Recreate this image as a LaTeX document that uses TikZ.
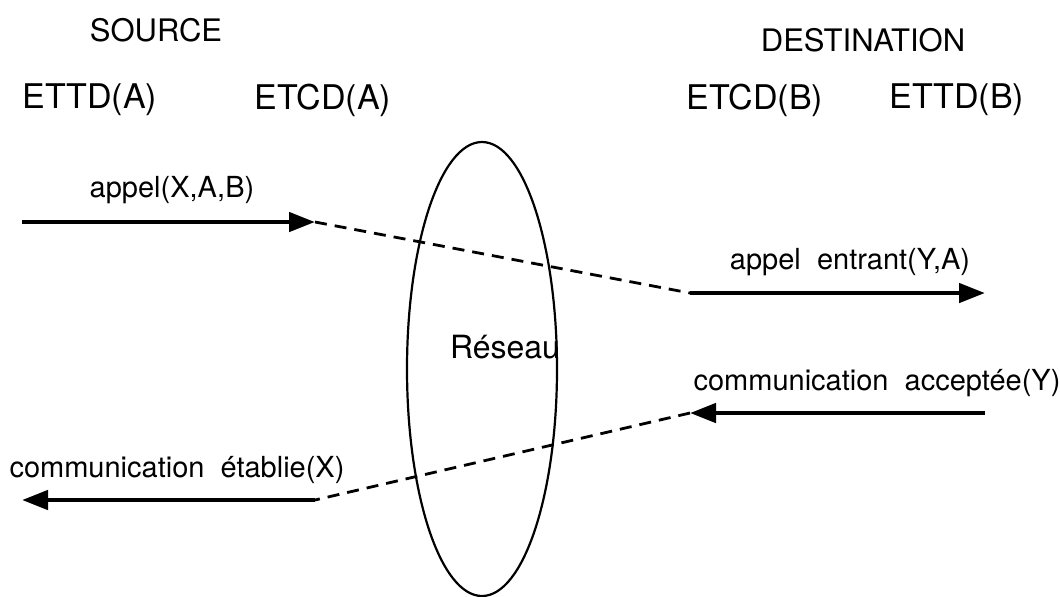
\documentclass[tikz,border=0pt]{standalone}
\usepackage{fontspec}
\setmainfont{TeX Gyre Heros}
\usetikzlibrary{arrows.meta}

\begin{document}
\begin{tikzpicture}[x=0.5pt,y=-0.5pt,
  msg/.style={line width=2.3pt,-{Triangle[length=13pt,width=9.5pt]}},
  lien/.style={line width=1.4pt,dash pattern=on 6pt off 4pt},
  lbl/.style={font=\fontsize{14.5}{17}\selectfont,inner sep=0pt},
  hdr/.style={font=\fontsize{17}{20}\selectfont,inner sep=0pt}]
\useasboundingbox (0,0) rectangle (1060,596);
% en-tetes
\node[hdr,font=\fontsize{15.5}{18}\selectfont] (src) at (156,30) {SOURCE};
\node[hdr,font=\fontsize{15.5}{18}\selectfont] (dst) at (863,40) {DESTINATION};
\node[hdr] (ettdA) at (90,100) {ETTD(A)};
\node[hdr] (etcdA) at (323,100) {ETCD(A)};
\node[hdr] (etcdB) at (755,100) {ETCD(B)};
\node[hdr] (ettdB) at (957,100) {ETTD(B)};
% reseau
\draw[line width=1.1pt] (482,369) ellipse [x radius=75, y radius=227];
\node[hdr,font=\fontsize{16}{19}\selectfont] (reseau) at (505,347) {Réseau};
% extremites des fleches
\coordinate (a1) at (22,222);
\coordinate (b1) at (315,222);
\coordinate (a2) at (690,293);
\coordinate (b2) at (985,293);
\coordinate (a3) at (985,413);
\coordinate (b3) at (690,413);
\coordinate (a4) at (315,500);
\coordinate (b4) at (22,500);
\draw[msg] (a1) -- (b1);
\draw[lien] (b1) -- (a2);
\draw[msg] (a2) -- (b2);
\draw[msg] (a3) -- (b3);
\draw[lien] (b3) -- (a4);
\draw[msg] (a4) -- (b4);
\node[lbl] (m1) at (172,190) {appel(X,A,B)};
\node[lbl] (m2) at (850,262) {appel\ \ entrant(Y,A)};
\node[lbl] (m3) at (877,383) {communication\ \ acceptée(Y)};
\node[lbl] (m4) at (177,470) {communication\ \ établie(X)};
\end{tikzpicture}
\end{document}
